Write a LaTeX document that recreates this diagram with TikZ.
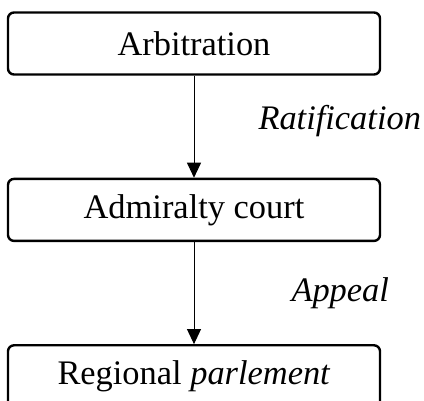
\documentclass[tikz,border=0pt]{standalone}
\usepackage{fontspec}
\setmainfont{Liberation Serif}
\usetikzlibrary{positioning}
\usetikzlibrary{arrows.meta}

\begin{document}
\begin{tikzpicture}[
  font=\fontsize{17.2}{20}\selectfont,
  box/.style={draw, line width=1.2pt, rounded corners=3pt, align=center, minimum width=186pt, minimum height=31pt, inner sep=0pt},
  arrow/.style={-{Triangle[length=7.5pt, width=7pt]}, line width=0.5pt},
  lbl/.style={font=\fontsize{17.2}{20}\selectfont\itshape, inner sep=0pt},
  node distance=51pt
]

\useasboundingbox (0,0) rectangle (212pt,-200.5pt);

\node[box] (arb) at (97pt,-21.75pt) {Arbitration};
\node[box, below=of arb] (adm) {Admiralty court};
\node[box, below=of adm] (reg) {Regional \textit{parlement}};

\draw[arrow] (arb) -- node[lbl, right=32pt, yshift=3pt] (rat) {Ratification} (adm);
\draw[arrow] (adm) -- node[lbl, right=48.5pt] (app) {Appeal} (reg);

\end{tikzpicture}
\end{document}
